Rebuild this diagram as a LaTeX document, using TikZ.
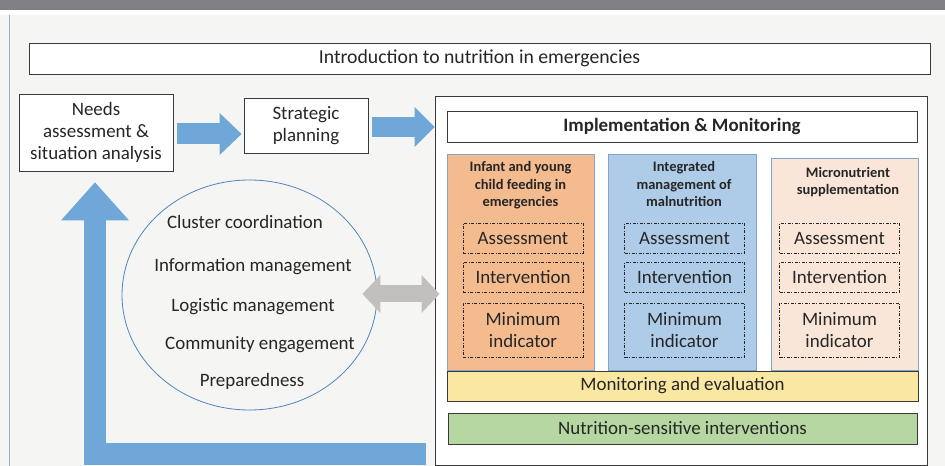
\documentclass[tikz,border=0pt]{standalone}
\usepackage{fontspec}
\setmainfont{Carlito}
\usetikzlibrary{arrows.meta,calc,shapes.geometric}
\definecolor{hdr}{HTML}{808185}
\definecolor{bgc}{HTML}{F5F5F3}
\definecolor{leftln}{HTML}{8FB4D8}
\definecolor{txt}{HTML}{262626}
\definecolor{bord}{HTML}{3A3A3A}
\definecolor{barc}{HTML}{6FA8D8}
\definecolor{garc}{HTML}{C1C0BE}
\definecolor{orng}{HTML}{F4BB8F}
\definecolor{lblue}{HTML}{AECBE8}
\definecolor{peach}{HTML}{F9E6D9}
\definecolor{colb}{HTML}{7EA6CC}
\definecolor{yel}{HTML}{FAE8A2}
\definecolor{grn}{HTML}{B6D7A2}
\definecolor{ellc}{HTML}{4F86BD}
\begin{document}
\begin{tikzpicture}[x=1bp,y=-1bp,
  every node/.style={text=txt},
  mainfont/.style={font=\fontsize{19}{22}\selectfont},
  boldtitle/.style={font=\bfseries\fontsize{14.5}{17.5}\selectfont, align=center, inner sep=0},
  box/.style={draw=bord, fill=white, line width=0.8bp, inner sep=0, align=center, mainfont},
  colbox/.style={draw=colb, line width=0.9bp, inner sep=0},
  dbox/.style={draw=txt, line width=0.6bp, dash pattern=on 3bp off 1.6bp on 0.8bp off 1.6bp,
    inner sep=0, align=center, mainfont, minimum width=120bp},
  band/.style={draw=bord, line width=0.8bp, inner sep=0, mainfont},
  barrow/.style={draw=barc, line join=miter},
  garrow/.style={draw=garc},
  etext/.style={mainfont, inner sep=0}
]
\useasboundingbox (0,0) rectangle (945,466);
\fill[bgc] (0,0) rectangle (945,466);
\fill[hdr] (0,0) rectangle (945,10);
\fill[white] (0,10) rectangle (945,15);
\draw[leftln, line width=1.2bp] (9.5,15) -- (9.5,466);

% top boxes
\node[box, minimum width=901bp, minimum height=31bp, font=\fontsize{19.8}{23}\selectfont] (intro) at (479.5,58.5) {Introduction to nutrition in emergencies};
\node[box, minimum width=154bp, minimum height=77bp] (needs) at (96,132.5) {Needs\\assessment \&\\situation analysis};
\node[box, minimum width=124bp, minimum height=55bp] (strat) at (306,125.5) {Strategic\\planning};

% big box
\node[box, minimum width=492bp, minimum height=369bp] (big) at (681,280.5) {};
\node[box, minimum width=470bp, minimum height=31bp, font=\bfseries\fontsize{19}{22}\selectfont] (impl) at (682,126.5) {Implementation \& Monitoring};

% columns
\node[colbox, fill=orng, minimum width=147bp, minimum height=216bp] (col1) at (520.5,262) {};
\node[colbox, fill=lblue, minimum width=148bp, minimum height=216bp] (col2) at (682,262) {};
\node[colbox, fill=peach, minimum width=147bp, minimum height=212bp] (col3) at (844.5,264) {};

\node[boldtitle] (t1) at (520.5,185.5) {Infant and young\\child feeding in\\emergencies};
\node[boldtitle] (t2) at (684,184) {Integrated\\management of\\malnutrition};
\node[boldtitle] (t3) at (848,182) {Micronutrient\\supplementation};

\foreach \c/\x in {a/523,b/684.5,c/839.5}{
  \node[dbox, minimum height=30bp] (as\c) at (\x,238) {Assessment};
  \node[dbox, minimum height=30bp] (in\c) at (\x,277) {Intervention};
  \node[dbox, minimum height=54bp] (mi\c) at (\x,330) {Minimum\\indicator};
}

\node[band, fill=yel, minimum width=471bp, minimum height=30bp] (me) at (682.5,386) {Monitoring and evaluation};
\node[band, fill=grn, minimum width=469bp, minimum height=31bp] (nsi) at (682.5,428.5) {Nutrition-sensitive interventions};

% ellipse
\node[ellipse, draw=ellc, line width=0.8bp, minimum width=255bp, minimum height=230bp, inner sep=0] (ell) at (249.5,295) {};
\node[etext] (e1) at (245,222) {Cluster coordination};
\node[etext] (e2) at (253,267) {Information management};
\node[etext] (e3) at (253,307) {Logistic management};
\node[etext] (e4) at (260,345) {Community engagement};
\node[etext] (e5) at (252,381) {Preparedness};

% arrows
\draw[barrow, line width=21bp, -{Triangle[width=42bp,length=22bp,line width=0pt]}]
  ($(needs.east)+(4,1.5)$) -- ($(needs.east -| strat.west)+(-2,1.5)$);
\draw[barrow, line width=20bp, -{Triangle[width=40bp,length=20bp,line width=0pt]}]
  ($(strat.east)+(4,1.5)$) -- ($(strat.east -| big.west)+(0,1.5)$);
\coordinate (lst) at (426,454);
\draw[barrow, line width=22bp, -{Triangle[width=68bp,length=38bp,line width=0pt]}]
  (lst) -| ($(needs.south)+(-1,11)$);
\draw[garrow, line width=17bp, {Triangle[width=38bp,length=18bp,line width=0pt]}-{Triangle[width=38bp,length=18bp,line width=0pt]}]
  ($(ell.east)+(-15,-1)$) -- ($(ell.east -| col1.west)+(-7,-1)$);
\end{tikzpicture}
\end{document}
